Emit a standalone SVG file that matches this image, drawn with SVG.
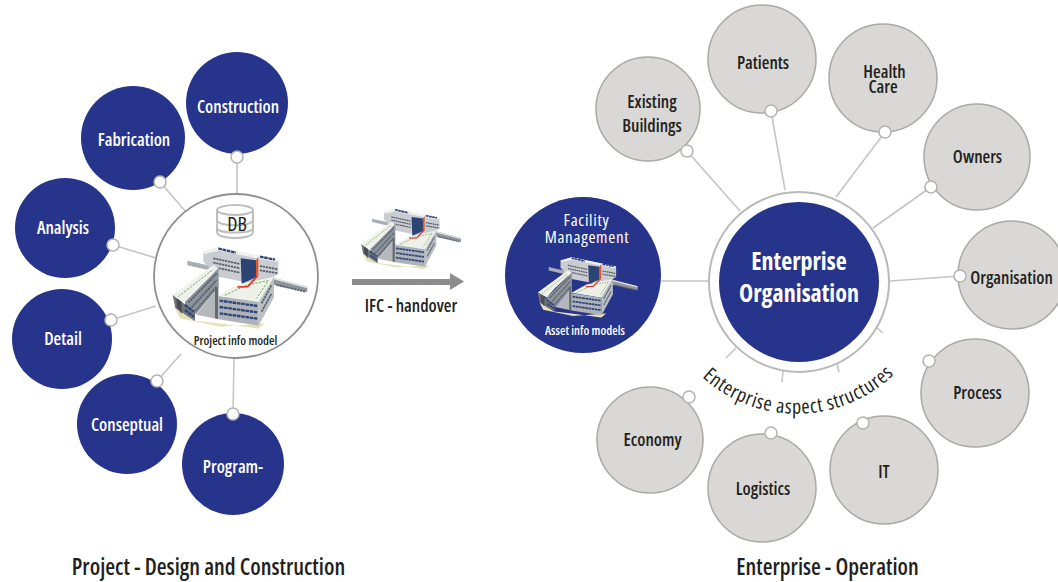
<svg xmlns="http://www.w3.org/2000/svg" width="1058" height="582" viewBox="0 0 1058 582">
<style>
text{font-family:"Open Sans","Liberation Sans",sans-serif;font-weight:600;font-stretch:75%}
.blue{fill:#27348b}
.grey{fill:#d9d8d7;stroke:#a9a9a7;stroke-width:1.5}
.knob{fill:#fff;stroke:#b3b3b1;stroke-width:1.5}
.line{stroke:#c4c5c4;stroke-width:1.6;fill:none}
.w{fill:#fff;text-anchor:middle;font-size:17.600px}
.k{fill:#231f20;text-anchor:middle;font-size:17.600px}
.win{fill:none;stroke:#2f4676;stroke-width:7;stroke-dasharray:11 2}
.wgr{fill:none;stroke:#565d68;stroke-width:5;stroke-dasharray:7 2}
.grn{fill:none;stroke:#6fae52;stroke-width:3;stroke-dasharray:7 4}
</style>
<defs>
<g id="bld">
<path d="M75 355L135 392L205 400L325 416L345 400L210 410L90 385Z" fill="#e6e2b8"/>
<path d="M112 212L200 232V246L112 226Z" fill="#a9aeb4"/>
<path d="M160 185L205 172L385 210V252L330 285L205 260L160 215Z" fill="#c9cdd1"/>
<path d="M160 185L205 172L385 210L378 216L205 182L165 192Z" fill="#f1f2f2"/>
<path d="M205 176L258 188M330 200L375 209" class="win"/>
<path d="M190 205L270 222M190 218L270 235M190 231L270 248M330 228L384 238M330 241L384 250" class="wgr"/>
<path d="M272 205L318 211V262L275 282Z" fill="#2c4474"/>
<path d="M318 211L325 200V255L318 262Z" fill="#e2552e"/>
<path d="M370 263L472 290V306L370 284Z" fill="#8f959b"/>
<path d="M370 263L472 290V295L370 268Z" fill="#e4e6e6"/>
<path d="M380 285L465 305" class="wgr"/>
<path d="M68 315L190 225L206 234L135 300L105 335Z" fill="#f0f1ec"/>
<path d="M85 320L190 238" class="grn"/>
<path d="M105 335L206 234V292L138 372L105 350Z" fill="#8f959c"/>
<path d="M115 338L200 250M125 352L200 270M135 364L200 290" class="wgr"/>
<path d="M68 315L135 365V393L76 355Z" fill="#70757c"/>
<path d="M80 325L95 335V372L80 350Z" fill="#4a4c4e"/>
<path d="M105 345L132 365M105 360L132 380" class="win" stroke-width="4"/>
<path d="M138 374L206 292V388Z" fill="#b5b8ba"/>
<path d="M195 296L204 290V388L195 384Z" fill="#666a70"/>
<path d="M205 316L265 283L372 260L326 336Z" fill="#eef0ea"/>
<path d="M225 316L290 285L355 272L320 325" class="grn"/>
<path d="M262 291L293 290L323 258" stroke="#e2342b" stroke-width="5" fill="none"/>
<path d="M205 318L326 336V407L205 388Z" fill="#aeb3ba"/>
<path d="M209 332L322 348M209 351L322 367M209 370L322 386" class="win"/>
<path d="M326 336L372 260V322L326 407Z" fill="#bcc0c4"/>
<path d="M335 340L365 285M335 365L365 310" class="wgr"/>
</g>
</defs>
<rect width="1058" height="582" fill="#fff"/>
<g id="connectors" class="line">
<path d="M237 157V197M160 182L187 213M113 245L156 258M111 320L156 306M157 381L181 354M233 414L234 358"/>
<path d="M687 151L740 211M771 111L785 190M885 132L836 197M931 187L873 228M960 276L890 281M661 281H708"/>
<path d="M877 328L883 333M837 363L839 372M783 371L782 382M736 348L726 358"/>
</g>
<g id="n-construction"><circle class="blue" cx="237" cy="103" r="51"/><text class="w" x="238" y="113">Construction</text><circle class="knob" cx="237" cy="157" r="6"/></g>
<g id="n-fabrication"><circle class="blue" cx="133" cy="138" r="52"/><text class="w" x="134" y="146">Fabrication</text><circle class="knob" cx="160" cy="182" r="6"/></g>
<g id="n-analysis"><circle class="blue" cx="65" cy="228" r="50"/><text class="w" x="63" y="234">Analysis</text><circle class="knob" cx="113" cy="245" r="6"/></g>
<g id="n-detail"><circle class="blue" cx="62" cy="339" r="50"/><text class="w" x="63" y="345">Detail</text><circle class="knob" cx="111" cy="320" r="6"/></g>
<g id="n-conseptual"><circle class="blue" cx="127" cy="424" r="50"/><text class="w" x="127" y="431">Conseptual</text><circle class="knob" cx="157" cy="381" r="6"/></g>
<g id="n-program"><circle class="blue" cx="233" cy="464" r="51"/><text class="w" x="233" y="473">Program-</text><circle class="knob" cx="233" cy="414" r="6"/></g>
<g id="n-project-info">
<circle cx="236" cy="276" r="82" fill="#fff" stroke="#8f8f8d" stroke-width="1.8"/>
<g fill="none" stroke="#bdbebd" stroke-width="2"><path d="M217 211V232C217 240 253 240 253 232V211"/><ellipse cx="235" cy="210" rx="18" ry="5"/><path d="M217 220C217 227 253 227 253 220M217 228C217 234 253 234 253 228"/></g>
<text x="237" y="231" text-anchor="middle" font-size="20" fill="#231f20" style="font-weight:400">DB</text>
<use href="#bld" transform="translate(150 190) scale(.3333)"/>
<text x="235.500" y="345" text-anchor="middle" font-size="12.500" fill="#231f20">Project info model</text>
</g>
<g id="handover">
<use href="#bld" transform="translate(344.400 166.300) scale(.247)"/>
<path d="M352 279H450V273L464 281.500L450 290V285H352Z" fill="#8c8c8c"/>
<text class="k" x="411" y="312">IFC - handover</text>
</g>
<g id="n-facility">
<circle class="blue" cx="583" cy="275" r="78"/>
<text x="586.500" y="226" text-anchor="middle" font-size="17" fill="#fff" letter-spacing=".7" style="font-weight:400">Facility</text>
<text x="587" y="243" text-anchor="middle" font-size="17" fill="#fff" letter-spacing=".7" style="font-weight:400">Management</text>
<use href="#bld" transform="translate(521 214.700) scale(.247)"/>
<text x="585" y="335" text-anchor="middle" font-size="12.500" fill="#fff">Asset info models</text>
</g>
<g id="n-enterprise">
<circle cx="799" cy="282" r="90" fill="#fff" stroke="#b9b9b7" stroke-width="2"/>
<circle class="blue" cx="799" cy="282" r="80"/>
<text x="799" y="270" text-anchor="middle" font-size="24" fill="#fff" style="font-weight:700">Enterprise</text>
<text x="799" y="302" text-anchor="middle" font-size="24" fill="#fff" style="font-weight:700">Organisation</text>
</g>
<g id="n-existing"><circle class="grey" cx="648" cy="109" r="52"/><text class="k" x="652" y="108">Existing</text><text class="k" x="652" y="132">Buildings</text><circle class="knob" cx="687" cy="151" r="6"/></g>
<g id="n-patients"><circle class="grey" cx="762" cy="59" r="54"/><text class="k" x="763" y="69">Patients</text><circle class="knob" cx="771" cy="111" r="6"/></g>
<g id="n-health"><circle class="grey" cx="883" cy="78" r="54"/><text x="884.500" y="78" text-anchor="middle" font-size="17.600" fill="#231f20">Health</text><text x="883" y="93" text-anchor="middle" font-size="17.600" fill="#231f20">Care</text><circle class="knob" cx="885" cy="132" r="6"/></g>
<g id="n-owners"><circle class="grey" cx="977" cy="157" r="53"/><text class="k" x="977.500" y="163">Owners</text><circle class="knob" cx="931" cy="187" r="6"/></g>
<g id="n-organisation"><circle class="grey" cx="1012" cy="275" r="54"/><circle class="knob" cx="960" cy="276" r="6"/><text class="k" x="1011.500" y="284">Organisation</text></g>
<g id="n-process"><circle class="grey" cx="975" cy="393" r="54"/><text class="k" x="977.500" y="399">Process</text><circle class="knob" cx="929" cy="361" r="6"/></g>
<g id="n-it"><circle class="grey" cx="884" cy="470" r="54"/><text class="k" x="884" y="478">IT</text><circle class="knob" cx="863" cy="423" r="6"/></g>
<g id="n-logistics"><circle class="grey" cx="762" cy="488" r="54"/><text class="k" x="763" y="495">Logistics</text><circle class="knob" cx="771" cy="433" r="6"/></g>
<g id="n-economy"><circle class="grey" cx="650" cy="440" r="53"/><text class="k" x="652.500" y="446">Economy</text><circle class="knob" cx="689" cy="397" r="6"/></g>
<path id="arc" d="M702 377A140 140 0 0 0 935 295" fill="none"/>
<text font-size="20" fill="#231f20" letter-spacing=".75" style="font-weight:400"><textPath href="#arc">Enterprise aspect structures</textPath></text>
<text x="208.500" y="575" text-anchor="middle" font-size="22.600" fill="#231f20">Project - Design and Construction</text>
<text x="827.500" y="575" text-anchor="middle" font-size="22.500" fill="#231f20">Enterprise - Operation</text>
</svg>
